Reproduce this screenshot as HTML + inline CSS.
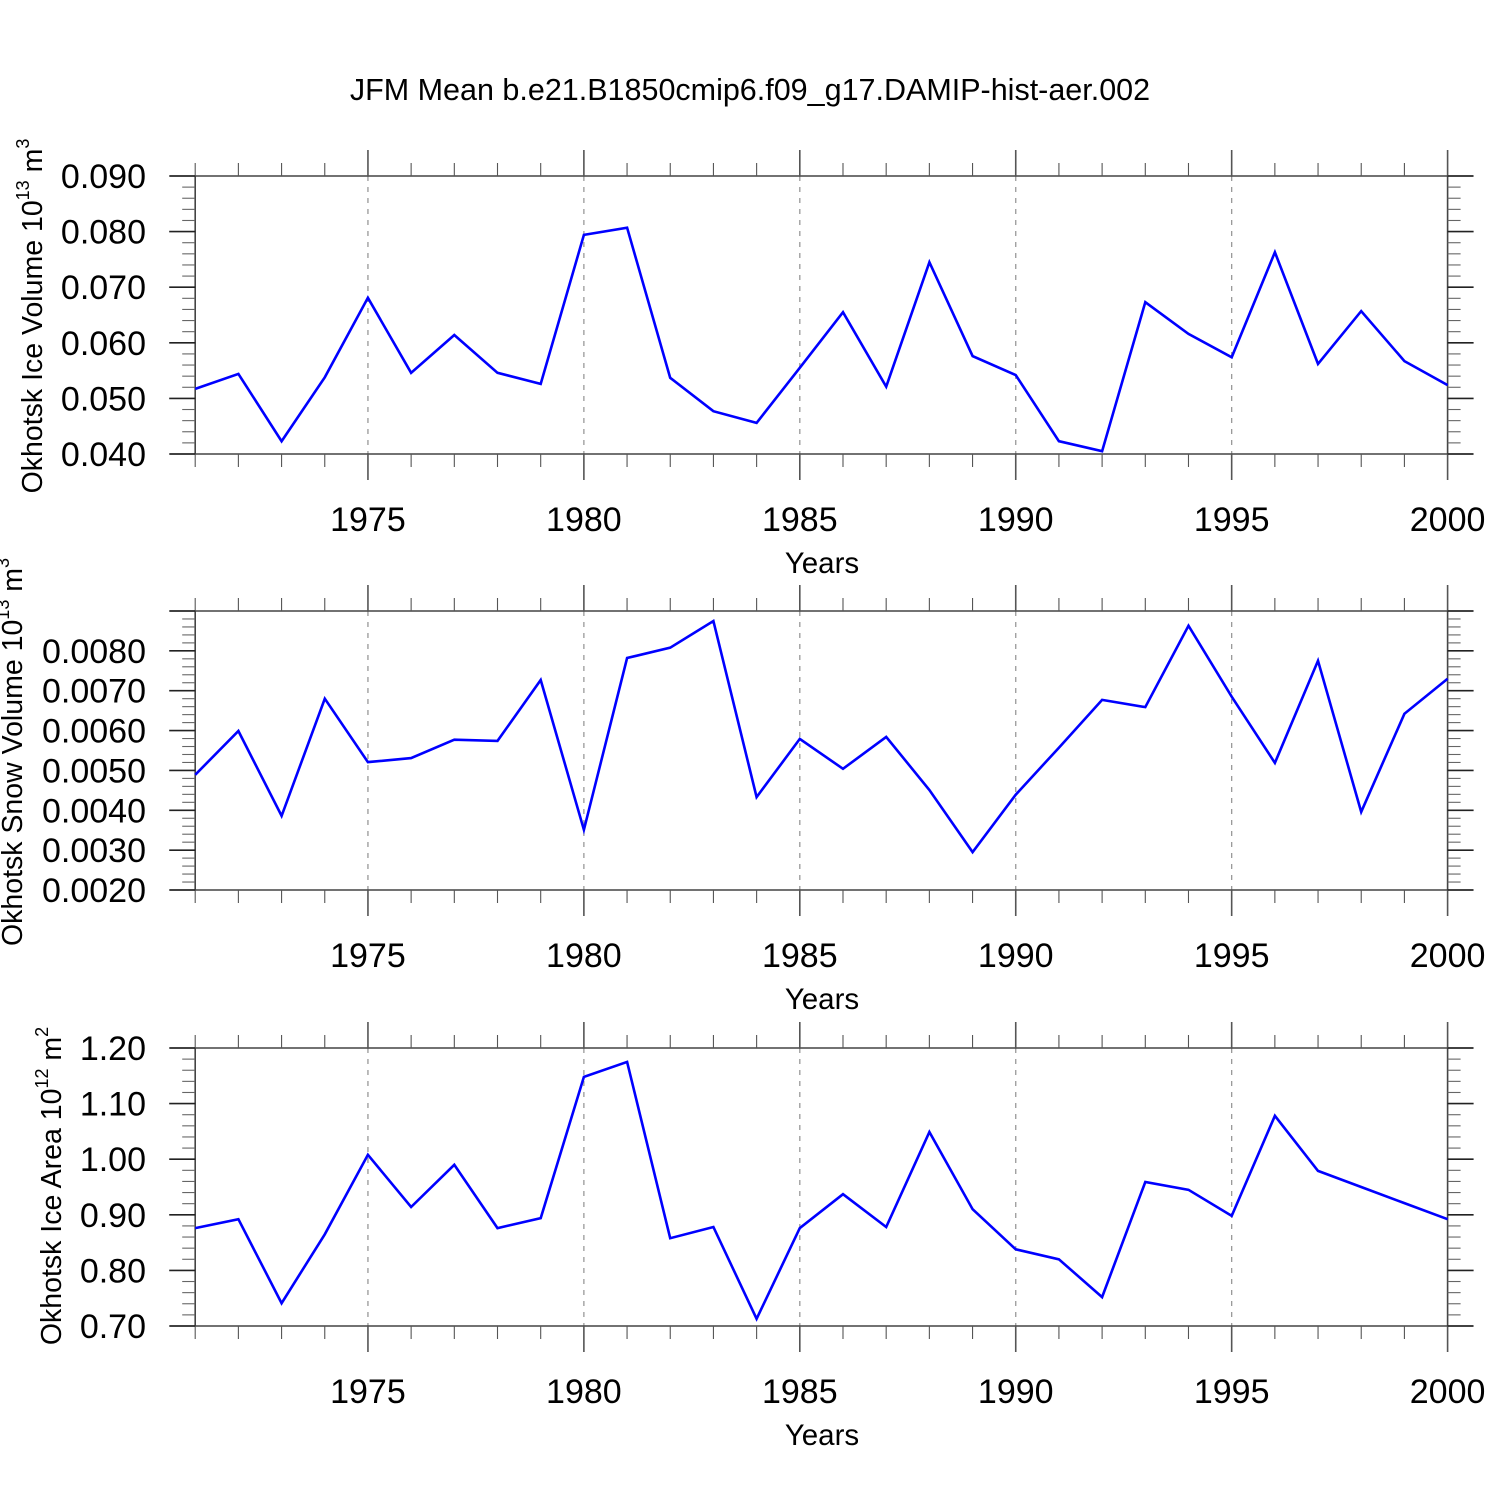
<!DOCTYPE html>
<html><head><meta charset="utf-8"><style>
html,body{margin:0;padding:0;background:#fff;}
svg{display:block;font-family:"Liberation Sans",sans-serif;}
</style></head><body>
<svg id="chart" width="1500" height="1500" viewBox="0 0 1500 1500" xmlns="http://www.w3.org/2000/svg">
<text x="750" y="100" font-size="30.5" text-anchor="middle">JFM Mean b.e21.B1850cmip6.f09_g17.DAMIP-hist-aer.002</text>
</svg>
<script>
const years = [1971,1972,1973,1974,1975,1976,1977,1978,1979,1980,1981,1982,1983,1984,1985,1986,1987,1988,1989,1990,1991,1992,1993,1994,1995,1996,1997,1998,1999,2000];
const iceVolume = [0.0517,0.0544,0.0423,0.0538,0.0681,0.0546,0.0614,0.0546,0.0526,0.0794,0.0807,0.0537,0.0477,0.0456,0.0555,0.0655,0.0521,0.0745,0.0576,0.0542,0.0423,0.0405,0.0673,0.0616,0.0574,0.0763,0.0562,0.0657,0.0567,0.0524];
const snowVolume = [0.00489,0.00599,0.00386,0.00680,0.00521,0.00531,0.00577,0.00574,0.00727,0.00351,0.00782,0.00808,0.00875,0.00433,0.00579,0.00504,0.00584,0.00451,0.00295,0.00439,0.00557,0.00677,0.00659,0.00863,0.00685,0.00519,0.00775,0.00396,0.00642,0.00730];
const iceArea = [0.876,0.892,0.741,0.865,1.008,0.914,0.990,0.876,0.894,1.148,1.175,0.858,0.878,0.713,0.876,0.937,0.878,1.049,0.910,0.838,0.820,0.752,0.959,0.945,0.898,1.078,0.979,0.950,0.921,0.892];
const xTickYears = [1975,1980,1985,1990,1995,2000];
const iceVolumeTicks = ["0.040","0.050","0.060","0.070","0.080","0.090"];
const snowVolumeTicks = ["0.0020","0.0030","0.0040","0.0050","0.0060","0.0070","0.0080"];
const iceAreaTicks = ["0.70","0.80","0.90","1.00","1.10","1.20"];

const svg = document.getElementById('chart');
const NS = 'http://www.w3.org/2000/svg';
function mk(tag, attrs, parent){
  const e = document.createElementNS(NS, tag);
  for (const k in attrs) e.setAttribute(k, attrs[k]);
  (parent||svg).appendChild(e);
  return e;
}
const X0 = 195.2, X1 = 1447.6;
function xs(yr){ return X0 + (yr - 1971) * (X1 - X0) / 29; }

const panels = [
  {name:'ice-volume', top:176, bot:454, ymin:0.040, ymax:0.090, major:0.010, minor:0.002, ticks:iceVolumeTicks, data:iceVolume,
   label:['Okhotsk Ice Volume 10','13',' m','3'], lx:42, ly:316},
  {name:'snow-volume', top:611, bot:890, ymin:0.0020, ymax:0.0090, major:0.0010, minor:0.0002, ticks:snowVolumeTicks, data:snowVolume,
   label:['Okhotsk Snow Volume 10','13',' m','3'], lx:22, ly:752},
  {name:'ice-area', top:1048, bot:1326, ymin:0.70, ymax:1.20, major:0.10, minor:0.02, ticks:iceAreaTicks, data:iceArea,
   label:['Okhotsk Ice Area 10','12',' m','2'], lx:61, ly:1186}
];

panels.forEach(p => {
  const g = mk('g', {});
  
  
  const ys = v => p.bot - (v - p.ymin) * (p.bot - p.top) / (p.ymax - p.ymin);
  xTickYears.forEach(yr => {
    if (yr >= 2000) return;
    const l = mk('line', {x1:xs(yr), x2:xs(yr), y1:p.top, y2:p.bot, stroke:'#999', 'stroke-width':1.3, 'stroke-dasharray':'5,6'}, g);
    
    
  });
  const fc = '#444';
  mk('line', {x1:170, x2:1473, y1:p.top, y2:p.top, stroke:fc, 'stroke-width':1.6}, g);
  mk('line', {x1:170, x2:1473, y1:p.bot, y2:p.bot, stroke:fc, 'stroke-width':1.6}, g);
  mk('line', {x1:X0, x2:X0, y1:p.top, y2:p.bot, stroke:fc, 'stroke-width':1.6}, g);
  mk('line', {x1:X1, x2:X1, y1:p.top, y2:p.bot, stroke:fc, 'stroke-width':1.6}, g);
  for (let yr = 1971; yr <= 2000; yr++) {
    const maj = yr % 5 === 0;
    const len = maj ? 26 : 13;
    mk('line', {x1:xs(yr), x2:xs(yr), y1:p.top - len, y2:p.top, stroke:'#555', 'stroke-width':maj?1.6:1.1}, g);
    mk('line', {x1:xs(yr), x2:xs(yr), y1:p.bot, y2:p.bot + len, stroke:'#555', 'stroke-width':maj?1.6:1.1}, g);
  }
  xTickYears.forEach(yr => {
    const t = mk('text', {x:xs(yr), y:p.bot + 77, 'font-size':34, 'text-anchor':'middle'}, g);
    t.textContent = yr;
    
    
  });
  const xt = mk('text', {x:822, y:p.bot + 119, 'font-size':29.5, 'text-anchor':'middle'}, g);
  xt.textContent = 'Years';
  
  
  const nMin = Math.round((p.ymax - p.ymin) / p.minor);
  const ratio = Math.round(p.major / p.minor);
  for (let i = 0; i <= nMin; i++) {
    const v = p.ymin + i * p.minor, y = ys(v);
    const maj = i % ratio === 0;
    const len = maj ? 26 : 13;
    mk('line', {x1:X0 - len, x2:X0, y1:y, y2:y, stroke:maj?'#222':'#666', 'stroke-width':maj?1.6:1.1}, g);
    mk('line', {x1:X1, x2:X1 + len, y1:y, y2:y, stroke:maj?'#222':'#666', 'stroke-width':maj?1.6:1.1}, g);
  }
  p.ticks.forEach((lab, i) => {
    const t = mk('text', {x:146, y:ys(p.ymin + i * p.major) + 12, 'font-size':34, 'text-anchor':'end'}, g);
    t.textContent = lab;
    
    
  });
  const yt = mk('text', {x:0, y:0, 'font-size':28.5, 'text-anchor':'middle', transform:'translate('+p.lx+','+p.ly+') rotate(-90)'}, g);
  
  
  const s1 = mk('tspan', {}, yt); s1.textContent = p.label[0];
  const s2 = mk('tspan', {dy:-13, 'font-size':18}, yt); s2.textContent = p.label[1];
  const s3 = mk('tspan', {dy:13}, yt); s3.textContent = p.label[2];
  const s4 = mk('tspan', {dy:-13, 'font-size':18}, yt); s4.textContent = p.label[3];
  const pts = p.data.map((v, i) => xs(years[i]).toFixed(1) + ',' + ys(v).toFixed(1)).join(' ');
  const pl = mk('polyline', {points:pts, fill:'none', stroke:'#0000ff', 'stroke-width':2.6, 'stroke-linejoin':'miter'}, g);
  
  
});
</script>
</body></html>
